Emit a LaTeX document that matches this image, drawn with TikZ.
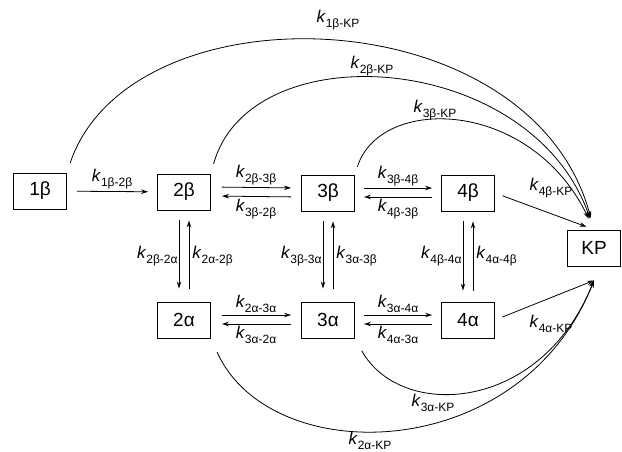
\documentclass[tikz,border=0pt]{standalone}
\usepackage{fontspec}
\setmainfont{Liberation Sans}
\usetikzlibrary{arrows.meta}
\newcommand{\rk}[1]{\fontsize{17}{17}\selectfont\textit{k}\raisebox{-0.3em}{\fontsize{12}{12}\selectfont #1}}
\begin{document}
\begin{tikzpicture}[x=1pt,y=-1pt,
  state/.style={draw,line width=0.9pt,minimum width=53pt,minimum height=36pt,inner sep=0pt,font=\fontsize{19}{19}\selectfont},
  conn/.style={line width=0.8pt,-{Stealth[length=7pt,width=4.5pt]}},
  lab/.style={inner sep=1pt}]
\useasboundingbox (0,0) rectangle (622,452);
% states
\node[state] (b1) at (40,191) {1β};
\node[state] (b2) at (184,192) {2β};
\node[state] (b3) at (328,193) {3β};
\node[state] (b4) at (468,193) {4β};
\node[state] (KP) at (594,248) {KP};
\node[state] (a2) at (184,320) {2α};
\node[state] (a3) at (328,320) {3α};
\node[state] (a4) at (468,320) {4α};
\coordinate (kpin) at ([yshift=-14pt]KP.south);
% horizontal beta
\draw[conn,shorten <=10pt,shorten >=9pt] (b1) -- node[lab,above=1pt]{\rk{1β-2β}} (b2);
\draw[conn,shorten <=11pt,shorten >=10pt] ([yshift=5pt]b2.east) -- node[lab,above=1pt]{\rk{2β-3β}} ([yshift=5pt]b3.west);
\draw[conn,shorten <=10pt,shorten >=11pt] ([yshift=-4pt]b3.west) -- node[lab,below=1pt]{\rk{3β-2β}} ([yshift=-4pt]b2.east);
\draw[conn,shorten <=9pt,shorten >=9pt] ([yshift=5pt]b3.east) -- node[lab,above=1pt]{\rk{3β-4β}} ([yshift=5pt]b4.west);
\draw[conn,shorten <=9pt,shorten >=9pt] ([yshift=-4pt]b4.west) -- node[lab,below=1pt]{\rk{4β-3β}} ([yshift=-4pt]b3.east);
% horizontal alpha
\draw[conn,shorten <=11pt,shorten >=10pt] ([yshift=5pt]a2.east) -- node[lab,above=1pt]{\rk{2α-3α}} ([yshift=5pt]a3.west);
\draw[conn,shorten <=10pt,shorten >=11pt] ([yshift=-4pt]a3.west) -- node[lab,below=1pt]{\rk{3α-2α}} ([yshift=-4pt]a2.east);
\draw[conn,shorten <=9pt,shorten >=9pt] ([yshift=5pt]a3.east) -- node[lab,above=1pt]{\rk{3α-4α}} ([yshift=5pt]a4.west);
\draw[conn,shorten <=9pt,shorten >=9pt] ([yshift=-4pt]a4.west) -- node[lab,below=1pt]{\rk{4α-3α}} ([yshift=-4pt]a3.east);
% vertical
\draw[conn,shorten <=10pt,shorten >=13pt] ([xshift=-5pt]b2.south) -- node[lab,left=0pt]{\rk{2β-2α}} ([xshift=-5pt]a2.north);
\draw[conn,shorten <=13pt,shorten >=10pt] ([xshift=5pt]a2.north) -- node[lab,right=2pt]{\rk{2α-2β}} ([xshift=5pt]b2.south);
\draw[conn,shorten <=10pt,shorten >=13pt] ([xshift=-5pt]b3.south) -- node[lab,left=0pt]{\rk{3β-3α}} ([xshift=-5pt]a3.north);
\draw[conn,shorten <=13pt,shorten >=10pt] ([xshift=5pt]a3.north) -- node[lab,right=2pt]{\rk{3α-3β}} ([xshift=5pt]b3.south);
\draw[conn,shorten <=10pt,shorten >=11pt] ([xshift=-5pt]b4.south) -- node[lab,left=0pt]{\rk{4β-4α}} ([xshift=-5pt]a4.north);
\draw[conn,shorten <=11pt,shorten >=10pt] ([xshift=5pt]a4.north) -- node[lab,right=2pt]{\rk{4α-4β}} ([xshift=5pt]b4.south);
% to KP straight
\draw[conn,shorten <=8pt,shorten >=8pt] (b4.east) -- (KP.north);
\node[lab] at (551,188) {\rk{4β-KP}};
\draw[conn,shorten <=8pt] (a4.east) -- (kpin);
\node[lab] at (551,324) {\rk{4α-KP}};
% curves to KP
\draw[conn,shorten <=10pt,shorten >=12pt] (b1.north east) .. controls (130,-15) and (530,-5) .. (KP.north);
\node[lab] at (338,20) {\rk{1β-KP}};
\draw[conn,shorten <=10pt,shorten >=12pt] (b2.north east) .. controls (250,32) and (530,50) .. (KP.north);
\node[lab] at (372,66) {\rk{2β-KP}};
\draw[conn,shorten <=8pt,shorten >=12pt] (b3.north east) .. controls (380,95) and (530,98) .. (KP.north);
\node[lab] at (435,110) {\rk{3β-KP}};
\draw[conn,shorten <=14pt] (a3.south east) .. controls (400,420) and (540,414) .. (kpin);
\node[lab] at (433,403) {\rk{3α-KP}};
\draw[conn,shorten <=15pt] (a2.south east) .. controls (270,470) and (520,466) .. (kpin);
\node[lab] at (370,441) {\rk{2α-KP}};
\end{tikzpicture}
\end{document}
